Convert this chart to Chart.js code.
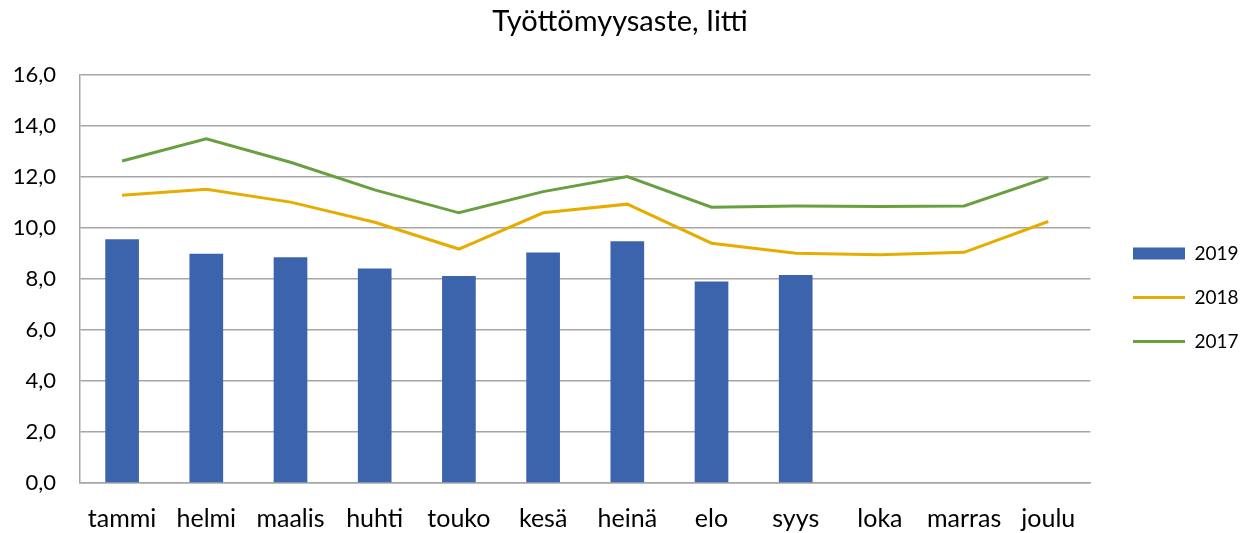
<!DOCTYPE html>
<html>
<head>
<meta charset="utf-8">
<script src="https://cdn.jsdelivr.net/npm/chart.js@4"></script>
<style>
  html, body { margin: 0; padding: 0; background: #fff; }
  #wrap { width: 1243px; height: 533px; }
</style>
</head>
<body>
<div id="wrap"><canvas id="chart" width="1243" height="533"></canvas></div>
<script>
// data
const months = ['tammi', 'helmi', 'maalis', 'huhti', 'touko', 'kesä', 'heinä', 'elo', 'syys', 'loka', 'marras', 'joulu'];
const values2019 = [9.55, 8.99, 8.85, 8.41, 8.11, 9.03, 9.48, 7.90, 8.15, null, null, null];
const values2018 = [11.28, 11.51, 11.01, 10.22, 9.17, 10.59, 10.93, 9.40, 9.01, 8.95, 9.04, 10.25];
const values2017 = [12.62, 13.49, 12.57, 11.49, 10.59, 11.42, 12.01, 10.81, 10.86, 10.84, 10.86, 11.98];
const yTicks = [0, 2, 4, 6, 8, 10, 12, 14, 16];

const FONT = 'Lato, "Liberation Sans", sans-serif';
const gridGray = '#a6a6a6';

// put the legend where the original has it (right side, a bit below the middle)
const legendPlacer = {
    id: 'legendPlacer',
    afterLayout(chart) {
        const lg = chart.legend;
        if (!lg) return;
        const w = lg.width, h = lg.height;
        lg.left = 1108; lg.right = lg.left + w;
        lg.top = 219; lg.bottom = lg.top + h;
    }
};

const ctx = document.getElementById('chart').getContext('2d');
new Chart(ctx, {
    data: {
        labels: months,
        datasets: [
            {
                type: 'bar',
                label: '2019',
                data: values2019,
                backgroundColor: '#3c64ad',
                borderWidth: 0,
                barPercentage: 0.4,
                categoryPercentage: 1,
                pointStyle: 'rect',
                order: 3
            },
            {
                type: 'line',
                label: '2018',
                data: values2018,
                borderColor: '#e6ad00',
                backgroundColor: '#e6ad00',
                borderWidth: 3,
                pointRadius: 0,
                tension: 0,
                pointStyle: 'line',
                order: 2
            },
            {
                type: 'line',
                label: '2017',
                data: values2017,
                borderColor: '#68a040',
                backgroundColor: '#68a040',
                borderWidth: 3,
                pointRadius: 0,
                tension: 0,
                pointStyle: 'line',
                order: 1
            }
        ]
    },
    plugins: [legendPlacer],
    options: {
        responsive: false,
        animation: false,
        layout: { padding: { left: 9, right: 12, top: 0, bottom: 0 } },
        plugins: {
            title: {
                display: true,
                text: 'Työttömyysaste, Iitti',
                color: '#000',
                font: { family: FONT, size: 29, weight: 'normal' },
                padding: { top: 4, bottom: 36 }
            },
            legend: {
                position: 'right',
                align: 'start',
                labels: {
                    usePointStyle: true,
                    pointStyleWidth: 52,
                    boxHeight: 12,
                    padding: 25,
                    color: '#000',
                    font: { family: FONT, size: 19 },
                    sort: (a, b) => a.datasetIndex - b.datasetIndex
                }
            },
            tooltip: { enabled: false }
        },
        scales: {
            y: {
                min: 0,
                max: 16,
                afterBuildTicks: (axis) => { axis.ticks = yTicks.map(v => ({ value: v })); },
                afterFit: (axis) => { axis.width = 71; },
                ticks: {
                    color: '#000',
                    font: { family: FONT, size: 22 },
                    padding: 24,
                    callback: (v) => v.toFixed(1).replace('.', ',')
                },
                grid: { color: gridGray, lineWidth: 1.5, drawTicks: false },
                border: { display: true, color: gridGray, width: 1.5 }
            },
            x: {
                afterFit: (axis) => { axis.height = 50; },
                ticks: {
                    color: '#000',
                    font: { family: FONT, size: 25 },
                    padding: 21,
                    maxRotation: 0
                },
                grid: { display: false, drawTicks: false },
                border: { display: true, color: gridGray, width: 1.5 }
            }
        }
    }
});
</script>
</body>
</html>
